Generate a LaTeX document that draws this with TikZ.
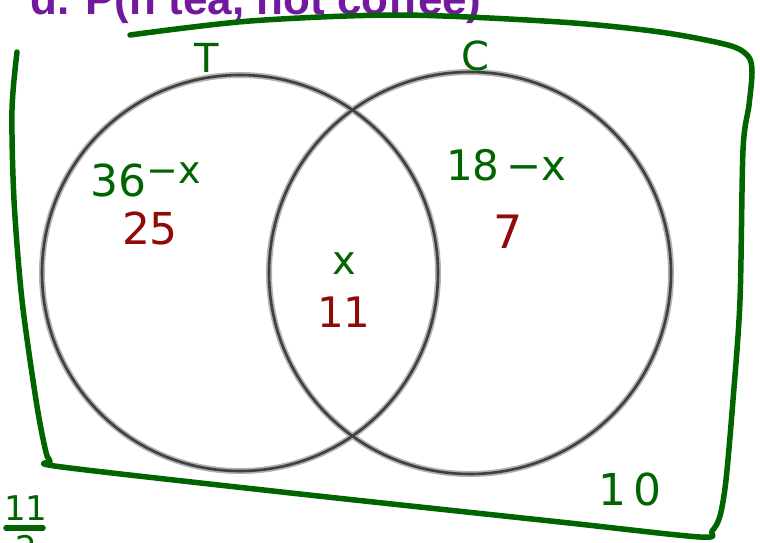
\documentclass[tikz,border=0pt]{standalone}
\usepackage{fontspec}
\newfontfamily\titlefont{Liberation Sans}
\newfontfamily\handfont{DejaVu Sans}
\definecolor{penGreen}{RGB}{0,100,0}
\definecolor{penRed}{RGB}{145,10,10}
\definecolor{titlePurple}{RGB}{115,25,160}
\begin{document}
\begin{tikzpicture}[x=1pt,y=-1pt,
  hand/.style={inner sep=0pt, font=\handfont\fontsize{#1}{#1}\selectfont},
  greenTxt/.style={hand=#1, text=penGreen},
  redTxt/.style={hand=#1, text=penRed},
  vennHalo/.style={draw=black!30, line width=6pt},
  vennLine/.style={draw=black!75, line width=2.6pt},
  penLine/.style={draw=penGreen, line width=5.5pt, line cap=round, line join=round}]
\useasboundingbox (0,0) rectangle (760,542);
% title (cut off at top)
\node[anchor=base west, inner sep=0pt, text=titlePurple,
      font=\titlefont\bfseries\fontsize{44}{44}\selectfont] (title) at (30,14) {d. P(n tea, not coffee)};
% green hand-drawn universal set frame
\draw[penLine] plot[smooth, tension=0.5] coordinates {
  (130,35) (250,21) (400,15) (560,22) (660,32) (728,45) (748,56) (752,72)
  (749,105) (743,150) (740,300) (733,400) (726,480) (720,516) (712,531) (700,537)
  (560,522) (300,494) (62,467) (50,461) (45,448) (36,400) (22,300) (14,200) (12,110) (17,52)};
% circles
\draw[vennHalo] (240,273) circle (198);
\draw[vennHalo] (470,273) circle (201);
\node[circle, vennLine, minimum size=396pt, inner sep=0pt] (Tset) at (240,273) {};
\node[circle, vennLine, minimum size=402pt, inner sep=0pt] (Cset) at (470,273) {};
% set labels
\node[greenTxt=40] (Tlab) at (207,58) {T};
\node[greenTxt=40] (Clab) at (475,56) {C};
% left region
\node[greenTxt=44, anchor=base west] (leftExpr) at (90,196) {36\raisebox{13pt}{\fontsize{38}{38}\selectfont −x}};
\node[redTxt=44] (leftVal) at (150,228) {25};
% right region
\node[greenTxt=42, anchor=base west] (rightExpr) at (446,180) {18\,−x};
\node[redTxt=46] (rightVal) at (508,232) {7};
% intersection
\node[greenTxt=40] (midExpr) at (344,264) {x};
\node[redTxt=42] (midVal) at (344,312) {11};
% outside
\node[greenTxt=44] (outVal) at (630,489) {1\,0};
% answer fraction at bottom left
\node[greenTxt=34] (ansNum) at (26,508) {11};
\draw[penLine] (6,528) -- (43,528);
\node[greenTxt=34, anchor=north] (ansDen) at (26,535) {2};
\end{tikzpicture}
\end{document}
